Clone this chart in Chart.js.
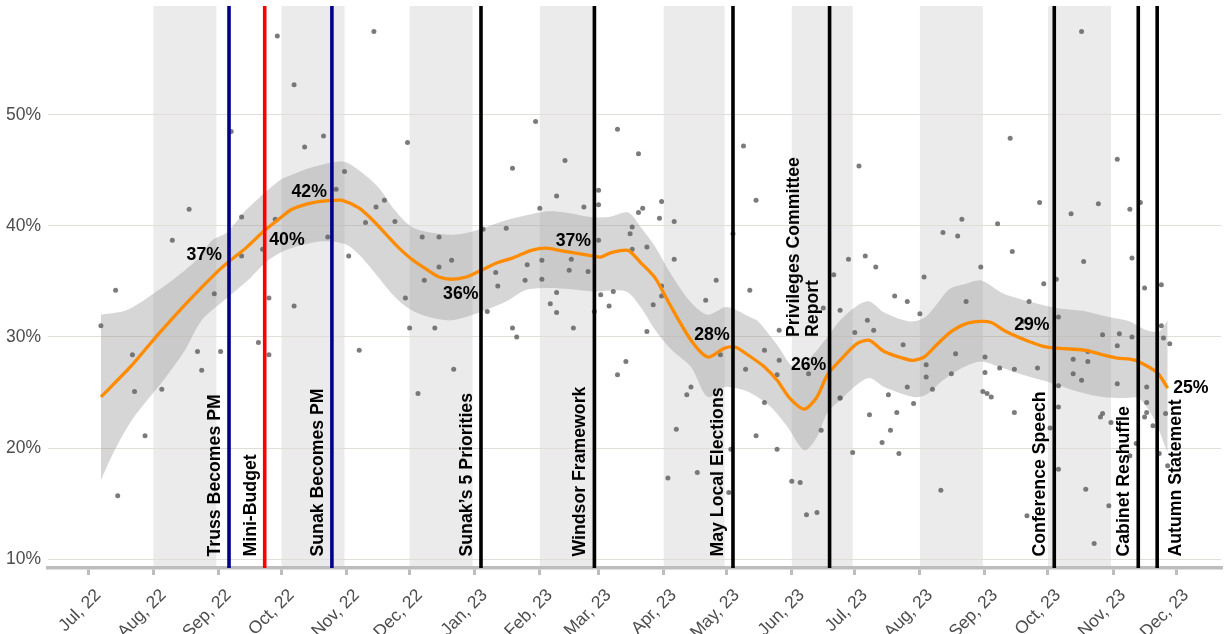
<!DOCTYPE html>
<html>
<head>
<meta charset="utf-8">
<script src="https://cdn.jsdelivr.net/npm/chart.js@4.4.0/dist/chart.umd.min.js"></script>
<style>
  html, body { margin: 0; padding: 0; background: #ffffff; }
  canvas { display: block; }
</style>
</head>
<body>
<canvas id="chart" width="1225" height="634"></canvas>
<script>
// ---- dates are stored as day offsets from 1 July 2022 ----
const DAY0 = Date.UTC(2022, 6, 1);
function dayOf(s) {
  const [y, m, d] = s.split('-').map(Number);
  return (Date.UTC(y, m - 1, d) - DAY0) / 86400000;
}

// x axis: month ticks
const monthTicks = ['2022-07-01','2022-08-01','2022-09-01','2022-10-01','2022-11-01','2022-12-01',
  '2023-01-01','2023-02-01','2023-03-01','2023-04-01','2023-05-01','2023-06-01',
  '2023-07-01','2023-08-01','2023-09-01','2023-10-01','2023-11-01','2023-12-01'];
const monthLabels = ['Jul, 22','Aug, 22','Sep, 22','Oct, 22','Nov, 22','Dec, 22',
  'Jan, 23','Feb, 23','Mar, 23','Apr, 23','May, 23','Jun, 23',
  'Jul, 23','Aug, 23','Sep, 23','Oct, 23','Nov, 23','Dec, 23'];

// y axis ticks (percent)
const yTicks = [10, 20, 30, 40, 50];

// alternate shaded months
const shadedStart = ['2022-08-01','2022-10-01','2022-12-01','2023-02-01','2023-04-01','2023-06-01','2023-08-01','2023-10-01'];
const shadedEnd   = ['2022-08-31','2022-10-31','2022-12-31','2023-02-28','2023-04-30','2023-06-30','2023-08-31','2023-10-31'];

// political events
const eventNames = ['Truss Becomes PM','Mini-Budget','Sunak Becomes PM',"Sunak\u2019s 5 Priorities",
  'Windsor Framework','May Local Elections',['Privileges Committee','Report'],
  'Conference Speech','Cabinet Reshuffle','Autumn Statement'];
const eventDates = ['2022-09-06','2022-09-23','2022-10-25','2023-01-04','2023-02-27',
  '2023-05-04','2023-06-19','2023-10-04','2023-11-13','2023-11-22'];

// individual poll results
const pollDays = [90,136,98,68,112,103,152,122,118,48,
  73,89,141,137,132,146,40,114,83,73,
  124,159,167,173,167,160,13,60,86,98,
  151,6,153,165,21,52,63,81,86,129,
  54,174,22,35,157,27,14,213,252,202,
  227,262,243,223,243,273,262,264,236,215,
  272,279,312,318,188,199,307,259,258,243,
  259,266,216,230,209,229,238,279,208,216,
  194,195,273,223,244,250,299,315,190,220,
  223,248,269,294,273,202,231,241,204,266,
  256,252,287,285,280,276,290,305,306,301,
  313,322,329,329,328,322,318,328,335,339,
  342,347,343,349,350,358,358,365,364,367,
  439,473,490,453,468,481,496,501,416,407,
  414,433,362,370,375,425,440,474,497,355,
  398,384,390,396,418,455,461,448,503,511,
  371,374,445,462,511,388,413,427,399,399,
  411,427,434,441,452,390,402,426,428,430,
  381,393,358,372,385,382,378,386,441,406,
  447,483,491,497,512,515,490,476,476,469,
  469,473,490,462,462,504,504,504,503,507,
  513,483,482,487,458,499,496,510,462,514,
  475,486,479];
const pollValues = [57.1,57.5,52.7,48.5,48.1,47.1,47.5,44.9,43.3,41.5,
  40.8,40.6,42.3,41.7,40.3,40.4,38.7,39.0,37.9,37.3,
  37.3,39.0,39.0,36.9,36.3,35.1,34.2,33.9,33.5,32.8,
  33.5,31.0,30.8,30.8,28.4,28.7,28.7,29.5,28.4,28.8,
  27.0,27.1,25.1,25.3,24.9,21.1,15.7,49.4,48.7,45.2,
  45.9,46.5,43.2,42.7,41.9,42.2,41.2,41.6,41.7,41.6,
  40.7,40.4,47.2,42.3,39.7,39.8,39.3,39.9,39.3,38.7,
  37.9,38.1,36.9,37.0,36.5,36.0,35.9,37.0,35.1,35.2,
  35.8,34.6,34.6,34.0,33.8,34.1,35.1,34.2,32.3,33.0,
  32.2,32.8,32.9,33.3,33.7,30.8,30.8,32.3,30.0,30.5,
  27.8,26.6,25.5,24.8,21.7,17.3,17.8,16.0,19.9,28.4,
  27.1,28.8,27.9,30.6,26.6,24.1,21.1,19.9,17.0,16.9,
  14.0,14.2,26.7,21.6,32.6,32.4,24.5,30.4,19.6,45.4,
  47.9,57.5,46.0,42.1,41.1,42.0,41.5,42.1,40.6,39.4,
  39.1,40.2,37.0,37.3,36.3,36.3,37.7,36.8,37.1,35.6,
  35.4,33.7,33.2,32.1,33.2,34.8,35.2,33.2,34.4,34.7,
  31.5,30.6,31.4,31.8,31.0,29.3,28.5,28.2,27.5,26.4,
  26.7,26.8,27.2,27.1,27.2,25.5,25.3,25.1,24.9,24.6,
  24.8,24.0,24.5,23.0,23.2,21.6,20.5,19.5,23.2,16.2,
  13.9,30.2,30.3,30.0,29.9,29.4,29.2,28.7,27.8,28.0,
  26.7,26.1,25.8,25.6,23.7,25.5,24.1,23.2,22.8,22.0,
  23.1,23.1,22.8,22.3,21.8,20.4,19.3,19.5,18.1,18.4,
  16.3,14.8,11.4];

// smoothed trend
const trendDays = [6,20,34,48,61,67,75,84,90,97,107,116,121,129,135,142,148,154,161,167,
  173,180,187,195,202,211,218,227,240,244,249,257,263,270,277,287,295,303,308,314,
  322,328,334,341,347,352,358,366,372,379,392,398,404,411,418,425,430,437,448,456,
  461,475,483,490,496,500,509,514];
const trendValues = [24.6,27.3,30.4,33.3,35.8,36.8,38.0,39.6,40.5,41.5,42.1,42.3,42.3,41.6,40.6,39.2,38.0,37.0,36.1,35.4,
  35.2,35.4,36.0,36.7,37.1,37.8,38.0,37.7,37.3,37.2,37.6,37.8,36.7,35.3,32.9,29.7,28.2,29.0,29.1,28.4,
  27.3,26.1,24.5,23.5,24.6,26.6,27.9,29.4,29.7,28.7,27.9,28.2,29.3,30.5,31.2,31.4,31.3,30.5,29.6,29.1,
  29.0,28.8,28.4,28.1,28.0,27.8,26.8,25.4];

// confidence band of the trend
const upperDays = [6,18,31,42,53,59,66,75,91,97,107,121,129,138,146,154,163,173,183,197,
  205,218,227,239,248,257,263,270,277,287,295,304,315,319,328,336,344,352,358,366,
  372,379,391,398,403,410,418,425,433,437,448,461,475,486,496,504,510,514];
const upperValues = [32.0,32.4,33.9,35.4,37.2,38.7,39.4,41.4,44.1,44.6,45.3,45.8,45.0,43.5,41.4,39.9,39.4,39.2,39.5,40.4,
  40.8,41.3,41.2,40.8,40.8,41.2,39.9,38.1,35.8,33.1,32.0,32.7,31.8,31.4,29.3,27.3,28.2,30.0,31.5,32.8,
  33.2,32.2,31.4,31.7,32.7,34.3,34.8,35.1,34.2,33.8,33.2,32.6,32.3,31.8,31.4,30.6,30.5,31.5];
const lowerDays = [6,12,20,28,37,46,54,66,76,85,94,107,115,123,130,138,146,154,164,173,
  183,199,208,218,230,241,256,263,270,278,287,295,303,308,315,325,333,341,347,352,
  358,366,372,379,393,399,407,417,425,434,445,458,471,483,493,500,507,514];
const lowerValues = [17.1,19.6,22.3,24.3,26.4,28.8,31.5,33.5,35.1,36.8,37.8,38.5,38.6,38.3,37.2,35.4,33.6,32.4,31.7,31.5,
  32.0,33.2,34.2,34.4,34.3,34.1,34.1,32.7,30.6,28.8,27.3,24.6,25.5,25.4,25.0,23.7,21.9,19.8,21.0,23.2,
  24.3,25.7,26.3,25.5,24.6,24.8,26.1,27.3,27.8,27.3,26.6,25.9,25.1,24.6,24.5,24.5,22.8,19.6];

// trend readings printed next to the events
const trendLabelDates = ['2022-09-06','2022-09-23','2022-10-25','2023-01-04','2023-02-27',
  '2023-05-04','2023-06-19','2023-10-04','2023-11-27'];
const trendLabelValues = [37, 40, 42, 36, 37, 28, 26, 29, 25];

// ---- styling ----
const FONT = '"Liberation Sans", Arial, Helvetica, sans-serif';
const eventColors = ['#00008b','#ff0000','#00008b','#000000','#000000','#000000','#000000','#000000','#000000','#000000'];
const eventTextAt = [null, null, null, null, null, null, 30, null, null, null]; // y value where a name starts (default: bottom)
const eventTextDx = [-13.8, -13.8, -13.8, -13.8, -13.8, -14.5, -16.5, -14, -14, 19]; // offset of the (last) text line from its line
const trendLabelPlacement = [
  { dx: -7,   dy: -4,   align: 'right' },
  { dx: 4.5,  dy: 14,   align: 'left'  },
  { dx: -5,   dy: -12,  align: 'right' },
  { dx: -2.5, dy: 23.5, align: 'right' },
  { dx: -3.3, dy: -18,  align: 'right' },
  { dx: -3.3, dy: -24,  align: 'right' },
  { dx: -3.3, dy: -16.4,align: 'right' },
  { dx: -4.7, dy: -23,  align: 'right' },
  { dx: 5.5,  dy: -4.5, align: 'left'  }
];

const toXY = (xs, ys) => xs.map((x, i) => ({ x: x, y: ys[i] }));

const backdrop = {
  id: 'backdrop',
  beforeDraw(chart) {
    const { ctx, chartArea: a, scales: { x } } = chart;
    ctx.save();
    ctx.fillStyle = '#ffffff';
    ctx.fillRect(0, 0, chart.width, chart.height);
    ctx.fillStyle = '#ebebeb';
    shadedStart.forEach((s, i) => {
      const x0 = x.getPixelForValue(dayOf(s));
      const x1 = x.getPixelForValue(dayOf(shadedEnd[i]));
      ctx.fillRect(x0, a.top, x1 - x0, a.bottom - a.top);
    });
    ctx.restore();
  }
};

const annotations = {
  id: 'annotations',
  afterDatasetsDraw(chart) {
    const { ctx, chartArea: a, scales: { x, y } } = chart;
    ctx.save();
    // event lines
    eventDates.forEach((d, i) => {
      const px = x.getPixelForValue(dayOf(d));
      ctx.strokeStyle = eventColors[i];
      ctx.lineWidth = 3.6;
      ctx.beginPath();
      ctx.moveTo(px, a.top);
      ctx.lineTo(px, a.bottom);
      ctx.stroke();
    });
    // event names, written upwards
    ctx.fillStyle = '#000000';
    ctx.font = 'bold 17.7px ' + FONT;
    ctx.textBaseline = 'middle';
    ctx.textAlign = 'left';
    eventDates.forEach((d, i) => {
      const px = x.getPixelForValue(dayOf(d));
      const lines = Array.isArray(eventNames[i]) ? eventNames[i] : [eventNames[i]];
      const startY = eventTextAt[i] == null ? a.bottom - 11.5 : y.getPixelForValue(eventTextAt[i]);
      lines.forEach((t, k) => {
        const cx = px + eventTextDx[i] - (lines.length - 1 - k) * 18.8;
        ctx.save();
        ctx.translate(cx, startY);
        ctx.rotate(-Math.PI / 2);
        ctx.fillText(t, 0, 0);
        ctx.restore();
      });
    });
    // trend readings
    trendLabelDates.forEach((d, i) => {
      const p = trendLabelPlacement[i];
      const px = x.getPixelForValue(dayOf(d)) + p.dx;
      const py = y.getPixelForValue(trendLabelValues[i]) + p.dy;
      ctx.textAlign = p.align;
      ctx.fillText(trendLabelValues[i] + '%', px, py);
    });
    ctx.restore();
  }
};

const tickDays = monthTicks.map(dayOf);

new Chart(document.getElementById('chart'), {
  type: 'line',
  data: {
    datasets: [
      {
        label: 'trend',
        data: toXY(trendDays, trendValues),
        borderColor: '#ff8c00',
        borderWidth: 3.3,
        pointRadius: 0,
        tension: 0.25,
        fill: false
      },
      {
        label: 'polls',
        data: toXY(pollDays, pollValues),
        showLine: false,
        pointRadius: 2.5,
        pointBorderWidth: 0,
        pointBackgroundColor: 'rgba(100,100,100,0.85)',
        fill: false
      },
      {
        label: 'upper',
        data: toXY(upperDays, upperValues),
        borderWidth: 0,
        borderColor: 'rgba(0,0,0,0)',
        pointRadius: 0,
        tension: 0.3,
        fill: '+1',
        backgroundColor: 'rgba(153,153,153,0.4)'
      },
      {
        label: 'lower',
        data: toXY(lowerDays, lowerValues),
        borderWidth: 0,
        borderColor: 'rgba(0,0,0,0)',
        pointRadius: 0,
        tension: 0.3,
        fill: false
      }
    ]
  },
  options: {
    responsive: false,
    animation: false,
    devicePixelRatio: 1,
    layout: { padding: { top: 6, right: 0, left: 0, bottom: 0 } },
    plugins: { legend: { display: false }, tooltip: { enabled: false } },
    scales: {
      x: {
        type: 'linear',
        min: -19.2,
        max: 539.4,
        afterFit(s) { s.height = 66; s.paddingLeft = 0; s.paddingRight = 0; },
        afterBuildTicks(s) { s.ticks = tickDays.map(v => ({ value: v })); },
        grid: { drawOnChartArea: false, drawTicks: true, tickLength: 7, color: '#bdbdbd', lineWidth: 3 },
        border: { display: true, color: '#bdbdbd', width: 3.5 },
        ticks: {
          autoSkip: false,
          minRotation: 45,
          maxRotation: 45,
          padding: 10,
          labelOffset: 10,
          color: '#4d4d4d',
          font: { family: FONT, size: 17.5 },
          callback(v) { const i = tickDays.indexOf(v); return i >= 0 ? monthLabels[i] : ''; }
        }
      },
      y: {
        min: 9.2,
        max: 59.8,
        afterFit(s) { s.width = 48; s.paddingTop = 0; s.paddingBottom = 0; },
        afterBuildTicks(s) { s.ticks = yTicks.map(v => ({ value: v })); },
        grid: { drawTicks: false, color: '#e3ddd7', lineWidth: 1 },
        border: { display: false },
        ticks: {
          padding: 7,
          color: '#4d4d4d',
          font: { family: FONT, size: 17.5 },
          callback(v) { return v + '%'; }
        }
      }
    }
  },
  plugins: [backdrop, annotations]
});
</script>
</body>
</html>
